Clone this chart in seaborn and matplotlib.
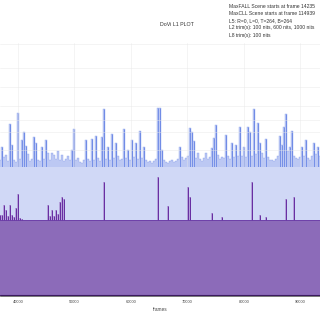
import numpy as np
import pandas as pd
import matplotlib
matplotlib.use("Agg")
import matplotlib.pyplot as plt
import seaborn as sns

# ---- data (frame axis, arbitrary PQ-like level units) ----
frame_start = 36814
frame_step = 354
max_level = [136, 149, 139, 141, 135, 172, 151, 136, 134, 183, 137, 156, 164, 150, 142, 135, 137, 159, 153, 136,
             135, 149, 137, 156, 143, 136, 143, 141, 137, 145, 136, 141, 135, 137, 140, 136, 146, 167, 136, 138,
             134, 133, 136, 156, 137, 135, 157, 136, 160, 138, 135, 159, 187, 137, 149, 136, 162, 138, 153, 140,
             136, 137, 167, 138, 146, 136, 156, 139, 153, 137, 165, 138, 149, 136, 134, 135, 133, 135, 137, 188,
             188, 146, 136, 134, 133, 135, 136, 134, 135, 137, 149, 139, 136, 138, 140, 168, 164, 155, 138, 143,
             137, 135, 138, 143, 137, 139, 148, 158, 171, 141, 137, 139, 138, 161, 140, 137, 153, 139, 151, 140,
             169, 140, 149, 139, 169, 164, 140, 187, 142, 173, 153, 143, 138, 157, 139, 136, 136, 135, 137, 140,
             160, 151, 169, 182, 145, 149, 165, 140, 138, 137, 139, 149, 140, 156, 138, 136, 140, 153, 142, 149, 140]
avg_level = [129] * 161
min_level = [81, 81, 91, 86, 80, 91, 81, 79, 88, 102, 78, 77, 76, 76, 76, 76, 76, 76, 76, 76,
             76, 76, 76, 76, 91, 80, 86, 80, 86, 82, 94, 99, 97, 76, 76, 76, 76, 76, 76, 76,
             76, 76, 76, 76, 76, 76, 76, 76, 76, 76, 76, 76, 114, 76, 76, 76, 76, 76, 76, 76,
             76, 76, 76, 76, 76, 76, 76, 76, 76, 76, 76, 76, 76, 76, 76, 76, 76, 76, 76, 119,
             76, 76, 76, 76, 90, 76, 76, 76, 76, 76, 76, 76, 76, 76, 109, 99, 76, 76, 76, 76,
             76, 76, 76, 76, 76, 76, 83, 76, 76, 76, 76, 79, 76, 76, 76, 76, 76, 76, 76, 76,
             76, 76, 76, 76, 76, 76, 114, 76, 76, 76, 81, 76, 76, 79, 76, 76, 76, 76, 76, 76,
             76, 76, 76, 97, 76, 76, 76, 99, 76, 76, 76, 76, 76, 76, 76, 76, 76, 76, 76, 76, 76]
min_base = 76
x_ticks = [40000, 50000, 60000, 70000, 80000, 90000]
y_grid = [95, 146, 164, 176, 190, 209, 228, 252]
title = "DoVi L1 PLOT"
info_lines = ["MaxFALL Scene starts at frame 14235",
              "MaxCLL Scene starts at frame 114939",
              "L5: R=0, L=0, T=264, B=264",
              "L2 trim(s): 100 nits, 600 nits, 1000 nits",
              "L8 trim(s): 100 nits"]

frames = [frame_start + i * frame_step for i in range(len(max_level))]
df = pd.DataFrame({"frame": frames, "max": max_level, "avg": avg_level, "min": min_level})

sns.set_theme(style="white")
plt.rcParams["font.family"] = ["Liberation Sans", "DejaVu Sans"]

fig = plt.figure(figsize=(3.2, 3.2), dpi=100)
ax = fig.add_axes([0, 0.075, 1, 0.790625])

# max (blue)
ax.fill_between(df["frame"], 0, df["max"], step="mid", color="#bcc8f3", lw=0, zorder=1)
sns.lineplot(data=df, x="frame", y="max", ax=ax, drawstyle="steps-mid", color="#7f98ea",
             lw=0.35, alpha=0.7, zorder=2)
spk = df[df["max"] > 145]
ax.vlines(spk["frame"], 125, spk["max"], color="#2f58dc", lw=0.5, alpha=0.7, zorder=2)
# avg (light blue band)
ax.fill_between(df["frame"], 0, df["avg"], step="mid", color="#d0d8f6", lw=0, zorder=3)
# min (purple)
ax.fill_between(df["frame"], 0, df["min"], step="mid", color="#b3a0da", lw=0, zorder=4)
ax.fill_between(df["frame"], 0, [min_base] * len(df), color="#8c6bb9", lw=0, zorder=4.5)
spm = df[df["min"] > min_base]
ax.vlines(spm["frame"], min_base, spm["min"], color="#5a1a98", lw=0.6, zorder=5)
sns.lineplot(x=[frames[0], frames[-1]], y=[min_base, min_base], ax=ax, color="#6a3aa6", lw=0.6, zorder=5)
ax.axhline(1, color="#3b1a5e", lw=0.8, zorder=6)

ax.set_xlim(frame_start, frame_start + 320 * 177)
ax.set_ylim(0, 253)
ax.set_xticks(x_ticks)
ax.set_xticklabels([str(t) for t in x_ticks], fontsize=2.9, color="#444444")
ax.set_yticks(y_grid)
ax.set_yticklabels([])
ax.tick_params(axis="x", length=1.5, width=0.4, pad=1.2, colors="#666666", labelcolor="#444444")
ax.tick_params(axis="y", length=0)
ax.grid(True, color="#e6e6e6", lw=0.5, zorder=7, alpha=0.6)
ax.set_axisbelow(False)
for s in ["top", "left", "right"]:
    ax.spines[s].set_visible(False)
ax.spines["bottom"].set_color("#444444")
ax.spines["bottom"].set_linewidth(0.5)
ax.set_xlabel("frames", fontsize=3.4, color="#444444", labelpad=2)
ax.set_ylabel("")
legend = ax.get_legend()
if legend:
    legend.remove()

fig.text(177 / 320, 1 - 24 / 320, title, ha="center", va="center", fontsize=3.8, color="#333333")
for i, line in enumerate(info_lines):
    fig.text(229 / 320, 1 - (6 + i * 7.3) / 320, line, ha="left", va="center", fontsize=3.6, color="#333333")

fig.savefig("out.png", dpi=100)
